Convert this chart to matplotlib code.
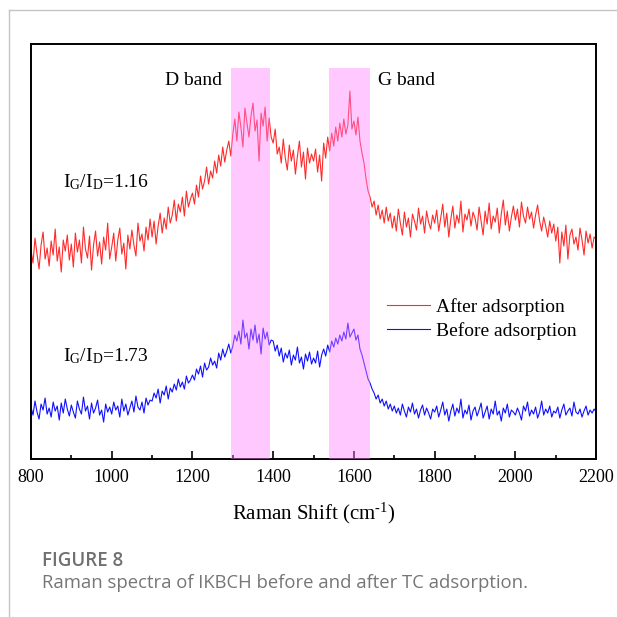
import numpy as np
import matplotlib
matplotlib.use("Agg")
import matplotlib.pyplot as plt
from matplotlib.lines import Line2D

plt.rcParams['font.family'] = ['Liberation Serif', 'DejaVu Serif']
plt.rcParams['mathtext.fontset'] = 'custom'
plt.rcParams['mathtext.rm'] = 'Liberation Serif'
plt.rcParams['mathtext.it'] = 'Liberation Serif:italic'

# Raman shift grid (cm-1), step 5
shift = np.arange(800, 2201, 5)

# intensities (a.u.), 20 points per 100 cm-1
after_ads = [
    209, 196, 221, 205, 190, 214, 227, 200, 211, 193, 218, 204, 230, 198, 212, 187, 219, 208, 224, 199,
    215, 192, 226, 207, 219, 196, 232, 210, 201, 223, 189, 214, 228, 203, 217, 195, 222, 209, 236, 200,
    212, 226, 198, 219, 231, 205, 216, 190, 224, 210, 229, 214, 203, 236, 218, 225, 208, 232, 219, 240,
    222, 238, 215, 233, 246, 226, 241, 230, 252, 236, 244, 259, 238, 255, 247, 262, 243, 268, 252, 260,
    266, 255, 274, 262, 283, 270, 278, 292, 275, 288, 281, 298, 286, 304, 293, 312, 297, 309, 318, 303,
    325, 340, 318, 347, 332, 312, 351, 336, 322, 343, 356, 328, 339, 298, 346, 333, 352, 318, 341, 322,
    316, 330, 305, 312, 296, 320, 301, 289, 314, 298, 309, 285, 303, 318, 292, 307, 280, 311, 296, 305,
    298, 310, 287, 304, 278, 316, 301, 322, 308, 326, 313, 332, 318, 336, 322, 340, 325, 334, 368, 330,
    338, 324, 342, 318, 306, 296, 280, 268, 262, 252, 258, 244, 254, 240, 249, 236, 252, 238, 246, 231,
    243, 228, 250, 236, 224, 247, 232, 241, 222, 245, 238, 229, 251, 235, 243, 226, 248, 237, 230, 244,
    236, 249, 228, 241, 255, 232, 246, 222, 240, 253, 231, 244, 236, 258, 227, 245, 239, 250, 233, 247,
    241, 229, 252, 238, 224, 248, 235, 256, 230, 243, 237, 251, 226, 245, 259, 234, 248, 228, 242, 253,
    239, 250, 232, 257, 243, 236, 252, 240, 247, 231, 244, 254, 238, 228, 242, 233, 222, 238, 226, 235,
    218, 232, 196, 227, 213, 234, 200, 224, 230, 215, 222, 209, 231, 219, 204, 228, 216, 225, 211, 222,
    220,
]
before_ads = [
    52, 44, 58, 47, 40, 55, 49, 61, 45, 51, 42, 57, 48, 53, 39, 56, 46, 60, 50, 43,
    54, 47, 41, 58, 50, 45, 62, 48, 53, 40, 56, 46, 51, 59, 44, 49, 37, 55, 47, 52,
    45, 57, 49, 53, 42, 60, 48, 55, 44, 51, 58, 47, 63, 52, 49, 57, 46, 61, 54, 59,
    58, 66, 61, 70, 56, 68, 64, 73, 60, 71, 67, 75, 69, 80, 72, 77, 70, 83, 76, 79,
    84, 79, 90, 85, 93, 82, 96, 89, 92, 101, 94, 98, 91, 106, 99, 110, 102, 108, 115, 106,
    113, 124, 118, 128, 115, 139, 121, 126, 110, 130, 119, 134, 116, 125, 105, 131, 120, 127, 114, 119,
    118, 108, 114, 103, 111, 97, 106, 101, 109, 94, 104, 99, 112, 96, 102, 90, 105, 98, 107, 95,
    101, 96, 108, 92, 104, 110, 103, 114, 107, 118, 112, 121, 115, 124, 118, 127, 120, 136, 122, 126,
    130, 119, 124, 110, 104, 96, 88, 80, 76, 70, 66, 60, 64, 56, 60, 53, 58, 50, 55, 48,
    53, 46, 51, 44, 55, 48, 42, 52, 47, 56, 45, 50, 41, 49, 54, 44, 51, 46, 40, 50,
    47, 53, 42, 49, 57, 44, 50, 38, 48, 55, 43, 51, 46, 60, 41, 49, 45, 54, 39, 48,
    52, 43, 49, 56, 41, 47, 53, 40, 50, 45, 58, 44, 48, 38, 51, 46, 55, 42, 49, 47,
    44, 51, 46, 39, 53, 48, 57, 43, 49, 45, 52, 41, 47, 58, 44, 50, 46, 53, 42, 48,
    46, 52, 41, 49, 55, 44, 48, 51, 43, 57, 47, 45, 50, 42, 48, 53, 44, 49, 46, 50,
    47,
]

d_band = (1296, 1392)
g_band = (1538, 1640)
ratio_after = "1.16"
ratio_before = "1.73"

fig = plt.figure(figsize=(6.17, 6.17), dpi=100)
ax = fig.add_axes([0.0502, 0.256, 0.916, 0.6726])

ax.plot(shift, after_ads, color='#ff2b2b', lw=0.8, label='After adsorption')
ax.plot(shift, before_ads, color='#1010ff', lw=0.8, label='Before adsorption')

# bands drawn over the spectra (translucent)
for lo, hi in (d_band, g_band):
    ax.axvspan(lo, hi, ymin=0, ymax=0.942, color='#ff80ff', alpha=0.42, lw=0, zorder=3)

ax.set_xlim(800, 2200)
ax.set_ylim(0, 415)
ax.set_xticks(np.arange(800, 2201, 200))
ax.set_xticks(np.arange(900, 2200, 200), minor=True)
ax.set_yticks([])
ax.tick_params(axis='x', which='major', direction='in', length=6, width=1.2, labelsize=13, pad=7)
ax.tick_params(axis='x', which='minor', direction='in', length=3, width=1.2)
for s in ax.spines.values():
    s.set_linewidth(1.4)

ax.set_xlabel(r'Raman Shift (cm$^{\text{-1}}$)', fontsize=15, labelpad=11)

ax.text(1273, 379, 'D band', fontsize=14, ha='right', va='center')
ax.text(1660, 379, 'G band', fontsize=14, ha='left', va='center')
ax.text(879, 272, r'I$_\mathrm{G}$/I$_\mathrm{D}$=' + ratio_after, fontsize=14, va='baseline')
ax.text(879, 98, r'I$_\mathrm{G}$/I$_\mathrm{D}$=' + ratio_before, fontsize=14, va='baseline')

ax.legend(loc='center left', bbox_to_anchor=(0.63, 0.338), frameon=False, fontsize=14,
          handlelength=2.2, handletextpad=0.3, labelspacing=0.3, borderpad=0, borderaxespad=0)

# card frame and caption
fig.add_artist(Line2D([0.015, 1], [0.983, 0.983], color='#c4c4c4', lw=1))
fig.add_artist(Line2D([0.015, 0.015], [0, 0.983], color='#c4c4c4', lw=1))
fig.text(0.068, 0.0908, 'FIGURE 8', fontsize=13.5, family='Open Sans', weight='semibold',
         color='#707070', va='center')
fig.text(0.068, 0.055, 'Raman spectra of IKBCH before and after TC adsorption.', fontsize=13.3,
         family='Open Sans', color='#767676', va='center')

fig.savefig('out.png', dpi=100)
